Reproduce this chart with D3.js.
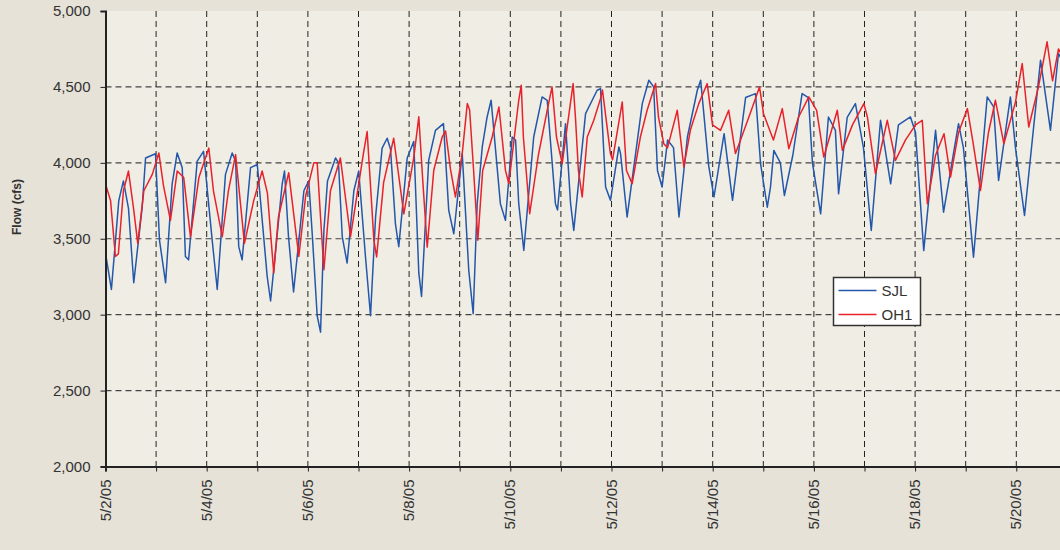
<html>
<head>
<script src="https://d3js.org/d3.v7.min.js"></script>
<style>
  body { margin: 0; background: #e6e2d7; }
  text { font-family: "Liberation Sans", Arial, sans-serif; fill: #333; }
</style>
</head>
<body>
<svg width="1060" height="550"></svg>
<script>
// [hours after 5/2/05 00:00, flow in cfs]
var sjl = [[0,3405],[2.8,3166],[6.3,3751],[8.5,3881],[10.9,3700],[13.4,3210],[17.4,3708],[19,4032],[23.7,4060],[25.6,3491],
  [28.5,3210],[31.6,3860],[34,4065],[36.4,3968],[37.9,3383],[39.4,3361],[43.5,4011],[46.5,4076],[50.6,3491],[53,3166],
  [56.9,3924],[60.1,4065],[61.7,4010],[63.2,3448],[64.8,3361],[68.8,3968],[72,3989],[76.7,3250],[78.3,3090],[83.8,3860],
  [84.9,3946],[86.8,3513],[89.2,3150],[94.1,3816],[96.4,3881],[98.2,3500],[100.4,2993],[102,2885],[103.6,3556],[105.3,3881],
  [109.1,4032],[110.5,4000],[112.3,3513],[114.6,3340],[117.8,3816],[120.1,3946],[123.3,3383],[125.7,2993],[128.1,3643],[131.2,4097],
  [133.6,4162],[135.2,4090],[137.5,3600],[139.1,3448],[143.1,4032],[146.2,4141],[148.6,3275],[149.9,3120],[153.3,4017],[156.5,4214],
  [160.3,4258],[162.8,3687],[165.2,3533],[169.2,4061],[172.3,3292],[174.4,3006],[176.3,3731],[178.7,4105],[181,4302],[182.9,4412],
  [187.3,3731],[189.7,3621],[192.9,4170],[194.5,4150],[196,3731],[198.4,3423],[203.1,4170],[207.1,4434],[209.5,4412],[213.4,3731],
  [214.4,3690],[218.2,4258],[220.6,3731],[222.1,3555],[227.7,4324],[233.2,4478],[234.8,4489],[237.2,3841],[239.5,3753],[243.5,4105],
  [244.3,4061],[247.4,3643],[254.6,4390],[257.7,4544],[260,4500],[261.8,3950],[264,3841],[266.6,4150],[269.4,4100],[272,3643],
  [276,4170],[280.7,4478],[282.3,4544],[286.1,3980],[288.6,3775],[293.4,4192],[297.4,3753],[301.2,4170],[303.6,4430],[308.3,4456],
  [310.7,3994],[313.9,3708],[315.4,3840],[317,4082],[320.1,4000],[322,3785],[326,4050],[330.4,4456],[333.4,4430],[335.3,4000],
  [339.2,3664],[342.9,4302],[346.2,4214],[347.7,3796],[351.8,4300],[355.7,4390],[359.5,4100],[363.2,3554],[367.6,4280],[372.4,3862],
  [376.1,4250],[381.8,4302],[384.2,4200],[388.1,3422],[393.7,4214],[397.5,3675],[404.6,4258],[406.9,4100],[411.7,3378],[418.2,4434],
  [421.2,4370],[423.6,3884],[429.2,4434],[431.6,4100],[435.9,3653],[443.5,4676],[448.2,4214],[452,4720],[455.8,4620]];

var oh1 = [[0,3860],[2.4,3751],[4.7,3383],[6.1,3400],[8.5,3816],[10.9,3946],[13.3,3700],[15.3,3470],[18.2,3816],[22.2,3924],
  [25.3,4065],[27.5,3850],[30.8,3621],[34,3946],[37.1,3903],[40.3,3513],[44.3,3903],[49,4097],[51.2,3816],[55.4,3513],
  [58.3,3816],[61.7,4054],[65.9,3470],[70.3,3751],[74.3,3946],[76.8,3800],[79.8,3275],[82,3640],[86.9,3935],[91.7,3383],
  [94.9,3780],[98.8,4000],[100.4,4000],[102,3640],[103.6,3296],[106.7,3816],[111.4,4032],[116.2,3513],[122.5,4076],[124.1,4206],
  [127.3,3491],[128.6,3380],[131.9,3870],[136.7,4162],[141.5,3664],[146.2,4032],[148.6,4303],[150.4,3900],[152.6,3445],[155.7,3951],
  [159.7,4170],[161.3,4210],[163.6,3960],[166,3775],[169.2,4061],[171.6,4390],[172.7,4350],[174.6,3950],[176.6,3490],[178.9,3950],
  [183.4,4170],[186.6,4368],[189.7,3950],[191.3,3863],[196,4412],[197.2,4511],[198.2,4170],[201.2,3665],[205.3,4050],[209.5,4346],
  [211.8,4500],[213.9,4170],[216.6,3995],[221.8,4522],[222.9,4300],[224.3,3950],[226.1,3775],[228.5,4170],[231.6,4280],[234.8,4423],
  [235.7,4480],[239.5,4061],[240.5,4020],[245.1,4401],[247.1,3950],[249.8,3863],[253.7,4170],[256.9,4346],[260.9,4522],[262.3,4300],
  [264.8,4126],[266.6,4100],[271.2,4346],[274.3,3973],[277.5,4220],[281.4,4390],[285.4,4522],[287.9,4250],[291.7,4214],[295.6,4346],
  [298.8,4061],[301.2,4150],[305.9,4330],[310.2,4500],[312.1,4324],[316.8,4150],[321,4357],[324.1,4093],[328.7,4300],[333.6,4434],
  [337.3,4346],[340.7,4038],[347.1,4346],[349.5,4082],[354.3,4250],[359.7,4390],[361.4,4300],[365.2,3928],[370.8,4280],[374.7,4016],
  [379.4,4150],[384.2,4250],[387.4,4280],[389.8,3730],[393.7,4050],[397.7,4192],[400.8,3906],[404.6,4200],[408.8,4357],[411.3,4150],
  [415,3818],[418.8,4200],[422.1,4412],[426.1,4126],[431.6,4400],[434.8,4654],[437.9,4236],[442.5,4500],[446.6,4797],[449.2,4540],
  [452,4750],[455.8,4650]];

var seriesNames = ["SJL", "OH1"];
var seriesColors = ["#2457ab", "#e8212b"];
var yTicks = [2000, 2500, 3000, 3500, 4000, 4500, 5000];

var start = new Date(2005, 4, 2);
var end = new Date(2005, 4, 21);
var plotLeft = 105.5, plotTop = 11, plotBottom = 466.5;

var svg = d3.select("svg");
svg.append("rect").attr("x", plotLeft).attr("y", plotTop).attr("width", 1060 - plotLeft).attr("height", plotBottom - plotTop)
  .attr("fill", "#f0eee4");

var x = d3.scaleTime().domain([start, end]).range([plotLeft, plotLeft + 19 * 50.6]);
var y = d3.scaleLinear().domain([2000, 5000]).range([plotBottom, plotTop]);

var days = d3.timeDay.range(start, end);

// grid
svg.append("g").selectAll("line").data(yTicks.slice(1, -1)).enter().append("line")
  .attr("x1", plotLeft).attr("x2", 1060).attr("y1", y).attr("y2", y)
  .attr("stroke", "#444").attr("stroke-width", 1.2).attr("stroke-dasharray", "6,4");
svg.append("g").selectAll("line").data(days.slice(1)).enter().append("line")
  .attr("x1", x).attr("x2", x).attr("y1", plotTop).attr("y2", plotBottom)
  .attr("stroke", "#222").attr("stroke-width", 1).attr("stroke-dasharray", "6,4");

// lines
var line = d3.line()
  .x(function(d) { return x(d3.timeMinute.offset(start, Math.round(d[0] * 60))); })
  .y(function(d) { return y(d[1]); });
svg.append("defs").append("clipPath").attr("id", "clip").append("rect")
  .attr("x", plotLeft).attr("y", 0).attr("width", 1060 - plotLeft).attr("height", plotBottom);
[sjl, oh1].forEach(function(s, i) {
  svg.append("path").datum(s).attr("d", line).attr("clip-path", "url(#clip)")
    .attr("fill", "none").attr("stroke", seriesColors[i]).attr("stroke-width", 1.5)
    .attr("stroke-linejoin", "round");
});

// axes
var yAxis = d3.axisLeft(y).tickValues(yTicks).tickSize(5).tickPadding(10).tickFormat(d3.format(","));
var gy = svg.append("g").attr("transform", "translate(" + plotLeft + ",0)").call(yAxis);
gy.select(".domain").attr("stroke", "#222").attr("stroke-width", 2);
gy.selectAll(".tick line").attr("stroke", "#222");
gy.selectAll("text").style("font-size", "15px").attr("fill", "#333");

var xAxis = d3.axisBottom(x).tickValues(days).tickSize(5).tickFormat("");
var gx = svg.append("g").attr("transform", "translate(0," + plotBottom + ")").call(xAxis);
gx.select(".domain").attr("stroke", "#222").attr("stroke-width", 2);
gx.selectAll(".tick line").attr("stroke", "#222");

svg.append("g").selectAll("text").data(days.filter(function(d, i) { return i % 2 === 0; })).enter().append("text")
  .attr("transform", function(d) { return "translate(" + (x(d) + 5) + "," + (plotBottom + 13) + ") rotate(-90)"; })
  .attr("text-anchor", "end").style("font-size", "15px")
  .text(function(d) { return d3.timeFormat("%-m/%-d/%y")(d); });

svg.append("text").attr("transform", "translate(21,207) rotate(-90)")
  .attr("text-anchor", "middle").style("font-size", "12px").style("font-weight", "bold")
  .attr("fill", "#222").text("Flow (cfs)");

// legend
var lg = svg.append("g").attr("transform", "translate(833.5,277.5)");
lg.append("rect").attr("width", 87).attr("height", 48).attr("fill", "#fff")
  .attr("stroke", "#333").attr("stroke-width", 1.5);
seriesNames.forEach(function(n, i) {
  lg.append("line").attr("x1", 5).attr("x2", 43).attr("y1", 13 + i * 24).attr("y2", 13 + i * 24)
    .attr("stroke", seriesColors[i]).attr("stroke-width", 1.5);
  lg.append("text").attr("x", 48).attr("y", 18.5 + i * 24).style("font-size", "15px").attr("fill", "#222").text(n);
});
</script>
</body>
</html>
